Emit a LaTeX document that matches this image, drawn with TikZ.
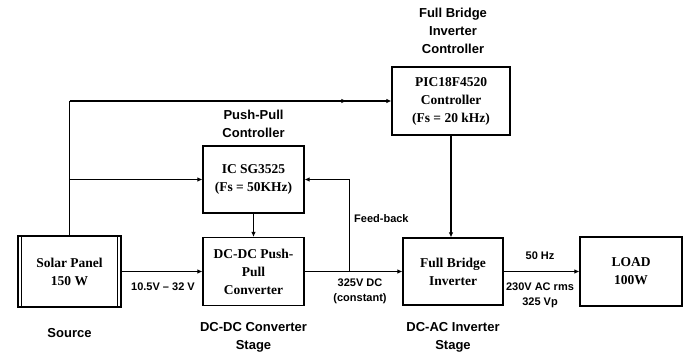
\documentclass[tikz,border=0pt]{standalone}
\usepackage{fontspec}
\setmainfont{Liberation Serif}
\setsansfont{Liberation Sans}
\usetikzlibrary{positioning,arrows.meta,calc,decorations.markings}
\tikzset{
  blk/.style    ={draw, rectangle, align=center, line width=1.1pt, inner sep=2pt, font=\fontsize{13.5}{18}\selectfont\bfseries},
  lbl/.style    ={align=center, inner sep=0pt, font=\sffamily\bfseries\fontsize{13}{18}\selectfont},
  sml/.style    ={align=center, inner sep=0pt, font=\sffamily\bfseries\fontsize{11}{15}\selectfont},
  wire/.style   ={line width=1.1pt},
  arr/.style    ={-{Latex[length=5pt,width=4.5pt]}, line width=1.1pt},
  midarr/.style ={postaction={decorate}, decoration={markings, mark=at position #1 with {\arrow{Latex[length=5pt,width=4.5pt]}}}},
}
\begin{document}
\begin{tikzpicture}[x=1pt,y=-1pt]
    \useasboundingbox (0,0) rectangle (687,353);
    \node[blk, minimum width=103pt, minimum height=71pt] (sp)   at (69.5,271.5) {Solar Panel\\150 W};
    \node[blk, minimum width=101pt, minimum height=67pt] (ic)   at (253.5,179.5) {IC SG3525\\(Fs = 50KHz)};
    \node[blk, minimum width=101pt, minimum height=68pt] (dc)   at (253.5,271.5) {DC-DC Push-\\Pull\\Converter};
    \node[blk, minimum width=118pt, minimum height=68pt] (pic)  at (451,101) {PIC18F4520\\Controller\\(Fs = 20 kHz)};
    \node[blk, minimum width=100pt, minimum height=67pt] (inv)  at (453,271.5) {Full Bridge\\Inverter};
    \node[blk, minimum width=102pt, minimum height=69pt] (load) at (631,271.5) {LOAD\\100W};
    \draw[wire] ([xshift=4pt]sp.north west) -- ([xshift=4pt]sp.south west);
    \draw[wire] ([xshift=-4pt]sp.north east) -- ([xshift=-4pt]sp.south east);

    \node[lbl] (lpp)  at (253.5,124) {Push-Pull\\Controller};
    \node[lbl] (lfb)  at (453,31) {Full Bridge\\Inverter\\Controller};
    \node[lbl] (lsrc) at (69.5,333) {Source};
    \node[lbl] (ldc)  at (253.5,337) {DC-DC Converter\\Stage};
    \node[lbl] (lac)  at (453,337) {DC-AC Inverter\\Stage};
    \node[sml] (lin)  at (163,287) {10.5V -- 32 V};
    \node[sml, anchor=west] (lfd) at (354,219) {Feed-back};
    \node[sml] (ldcv) at (360,291.5) {325V DC\\(constant)};
    \node[sml] (lhz)  at (540,256) {50 Hz};
    \node[sml] (lac2) at (540,295.5) {230V AC rms\\325 Vp};

    \coordinate (jtop) at (sp.north |- pic.west);
    \coordinate (jic)  at (sp.north |- ic.west);
    \coordinate (fb)   at ($(dc.east)!0.46!(inv.west)$);
    \draw[wire] (sp.north) -- (jtop);
    \draw[arr, midarr=0.86] (jtop) -- (pic.west);
    \draw[arr] (jic) -- (ic.west);
    \draw[arr] (sp.east) -- (dc.west);
    \draw[arr] (ic.south) -- (dc.north);
    \draw[arr] (dc.east) -- (inv.west);
    \draw[arr] (fb) |- (ic.east);
    \draw[arr] (pic.south) -- (pic.south |- inv.north);
    \draw[arr] (inv.east) -- (load.west);
\end{tikzpicture}
\end{document}
